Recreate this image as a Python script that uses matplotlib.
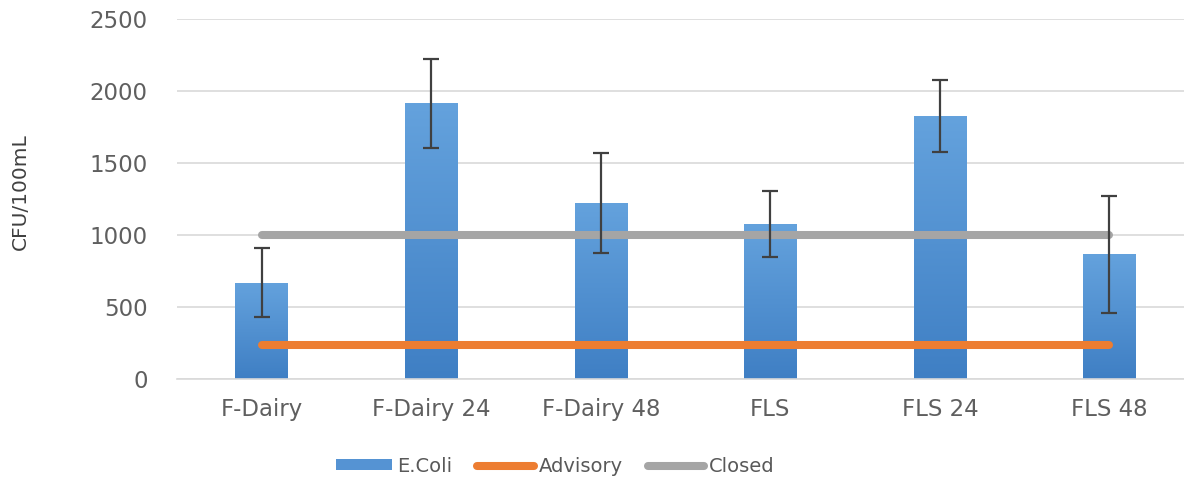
import numpy as np
import matplotlib
matplotlib.use("Agg")
import matplotlib.pyplot as plt
from matplotlib.lines import Line2D
from matplotlib.patches import Patch

categories = ["F-Dairy", "F-Dairy 24", "F-Dairy 48", "FLS", "FLS 24", "FLS 48"]
ecoli = [670, 1915, 1225, 1075, 1825, 865]
ecoli_err = [237, 310, 347, 230, 250, 405]
advisory = [235, 235, 235, 235, 235, 235]
closed = [1000, 1000, 1000, 1000, 1000, 1000]

plt.rcParams['font.family'] = ['DejaVu Sans']

fig = plt.figure(figsize=(11.84, 4.82), dpi=100)
ax = fig.add_axes([0.1495, 0.2137, 0.8505, 0.7469])

x = np.arange(len(categories))
bars = ax.bar(x, ecoli, width=0.31, color="#5593d3", zorder=2)

# vertical gradient on each bar, lighter at top
grad = np.linspace(0, 1, 256).reshape(-1, 1)
cmap = matplotlib.colors.LinearSegmentedColormap.from_list("b", ["#3f7fc4", "#64a2dd"])
for b in bars:
    x0, w, h = b.get_x(), b.get_width(), b.get_height()
    im = ax.imshow(grad, extent=[x0, x0 + w, 0, h], origin="lower", cmap=cmap,
                   aspect="auto", zorder=2.1)
    im.set_clip_path(b)

ax.errorbar(x, ecoli, yerr=ecoli_err, fmt="none", ecolor="#404040",
            elinewidth=1.6, capsize=5.5, capthick=1.6, zorder=5)

ax.plot(x, advisory, color="#ed7d31", lw=5.8, solid_capstyle="round", zorder=4)
ax.plot(x, closed, color="#a5a5a5", lw=5.8, solid_capstyle="round", zorder=4)

ax.set_ylim(0, 2500)
ax.set_xlim(-0.5, 5.44)
ax.set_yticks(range(0, 2501, 500))
ax.set_xticks(x)
ax.set_xticklabels(categories)
ax.yaxis.grid(True, color="#d9d9d9", lw=1.2, zorder=0)
ax.set_axisbelow(True)
for s in ["top", "right", "left"]:
    ax.spines[s].set_visible(False)
ax.spines["bottom"].set_color("#d9d9d9")
ax.spines["bottom"].set_linewidth(1.2)
ax.tick_params(axis="both", length=0, labelsize=16.5, labelcolor="#5f5f5f")
ax.tick_params(axis="y", pad=21)
ax.tick_params(axis="x", pad=14)
ax.set_ylabel("CFU/100mL", fontsize=14.5, color="#404040")
ax.yaxis.set_label_coords(-0.146, 0.52)

handles = [Patch(facecolor="#5593d3"),
           Line2D([], [], color="#ed7d31", lw=5.8, solid_capstyle="round"),
           Line2D([], [], color="#a5a5a5", lw=5.8, solid_capstyle="round")]
fig.legend(handles, ["E.Coli", "Advisory", "Closed"], loc="center",
           bbox_to_anchor=(0.469, 0.033), ncol=3, frameon=False, fontsize=14,
           handlelength=2.9, handleheight=0.45, handletextpad=0.25,
           columnspacing=1.3, labelcolor="#595959")

fig.savefig("out.png", dpi=100)
